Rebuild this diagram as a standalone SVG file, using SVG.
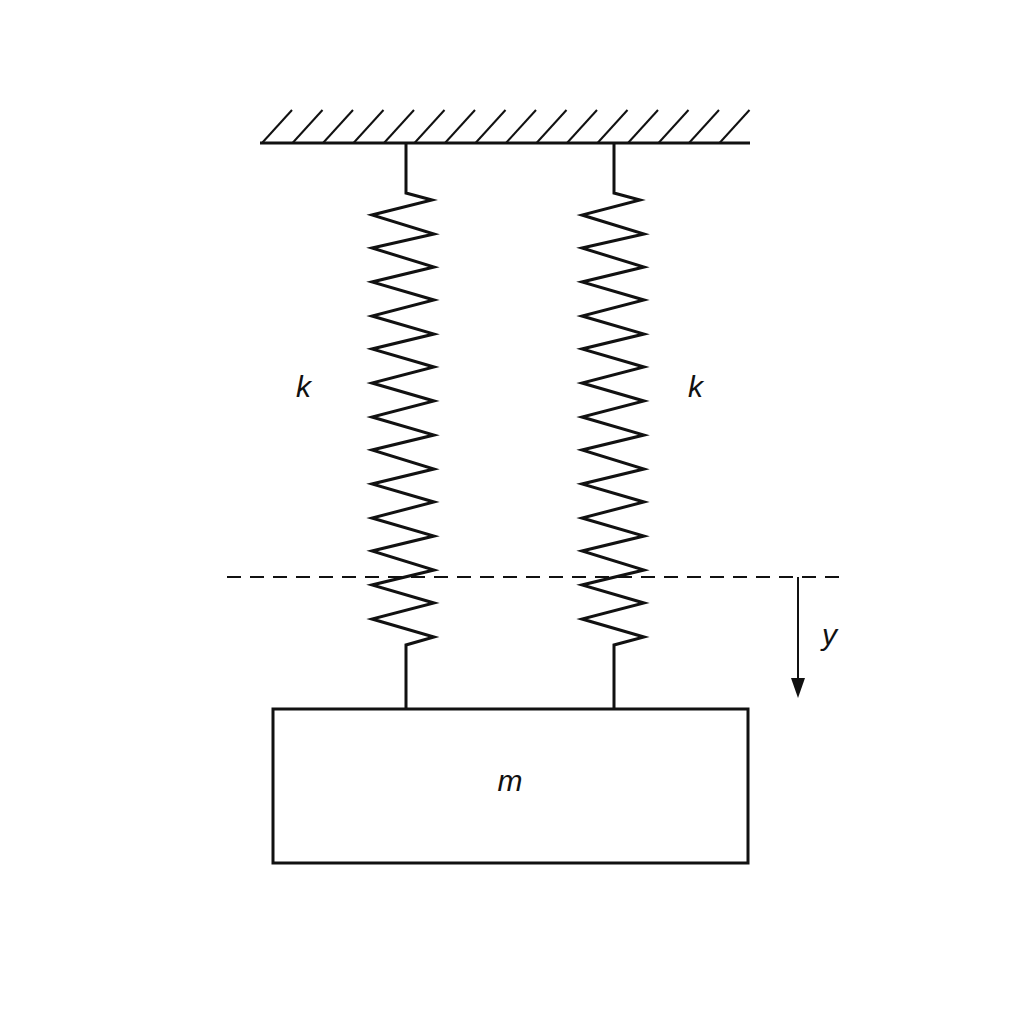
<svg xmlns="http://www.w3.org/2000/svg" width="1024" height="1024" viewBox="0 0 1024 1024">
<style>
.l{stroke:#111;stroke-width:3;fill:none;stroke-linejoin:miter}
.h{stroke:#111;stroke-width:2}
.t{font-family:"Liberation Sans",Arial,sans-serif;font-style:italic;font-size:30px;fill:#111}
</style>
<rect width="1024" height="1024" fill="#fff"/>
<g id="ceiling">
<line class="l" x1="260" y1="143" x2="750" y2="143"/>
<g class="h">
<line x1="262" y1="143" x2="292" y2="110"/><line x1="292.5" y1="143" x2="322.5" y2="110"/><line x1="323" y1="143" x2="353" y2="110"/><line x1="353.5" y1="143" x2="383.5" y2="110"/><line x1="384" y1="143" x2="414" y2="110"/><line x1="414.5" y1="143" x2="444.5" y2="110"/><line x1="445" y1="143" x2="475" y2="110"/><line x1="475.5" y1="143" x2="505.5" y2="110"/><line x1="506" y1="143" x2="536" y2="110"/><line x1="536.5" y1="143" x2="566.5" y2="110"/><line x1="567" y1="143" x2="597" y2="110"/><line x1="597.5" y1="143" x2="627.5" y2="110"/><line x1="628" y1="143" x2="658" y2="110"/><line x1="658.5" y1="143" x2="688.5" y2="110"/><line x1="689" y1="143" x2="719" y2="110"/><line x1="719.5" y1="143" x2="749.5" y2="110"/>
</g>
</g>
<g id="spring-left">
<path class="l" d="M406,143 V193 L432,200 L372,215 L434,234 L372,248 L434,267 L372,282 L434,300 L372,316 L434,334 L372,349 L434,367 L372,383 L434,401 L372,417 L434,435 L372,450 L434,469 L372,484 L434,502 L372,518 L434,536 L372,551 L434,570 L372,585 L434,603 L372,619 L434,637 L406,645 V709"/>
<text class="t" x="296" y="397">k</text>
</g>
<g id="spring-right">
<path class="l" d="M614,143 V193 L640,200 L582,215 L644,234 L582,248 L644,267 L582,282 L644,300 L582,316 L644,334 L582,349 L644,367 L582,383 L644,401 L582,417 L644,435 L582,450 L644,469 L582,484 L644,502 L582,518 L644,536 L582,551 L644,570 L582,585 L644,603 L582,619 L644,637 L614,645 V709"/>
<text class="t" x="688" y="397">k</text>
</g>
<g id="mass">
<rect class="l" x="273" y="709" width="475" height="154"/>
<text class="t" x="510" y="791" text-anchor="middle">m</text>
</g>
<g id="connectors">
<line x1="227" y1="577" x2="846" y2="577" stroke="#111" stroke-width="2" stroke-dasharray="14,9"/>
<line x1="798" y1="577" x2="798" y2="682" stroke="#111" stroke-width="2"/>
<polygon points="791,678 805,678 798,698" fill="#111"/>
<text class="t" x="822" y="645">y</text>
</g>
</svg>
